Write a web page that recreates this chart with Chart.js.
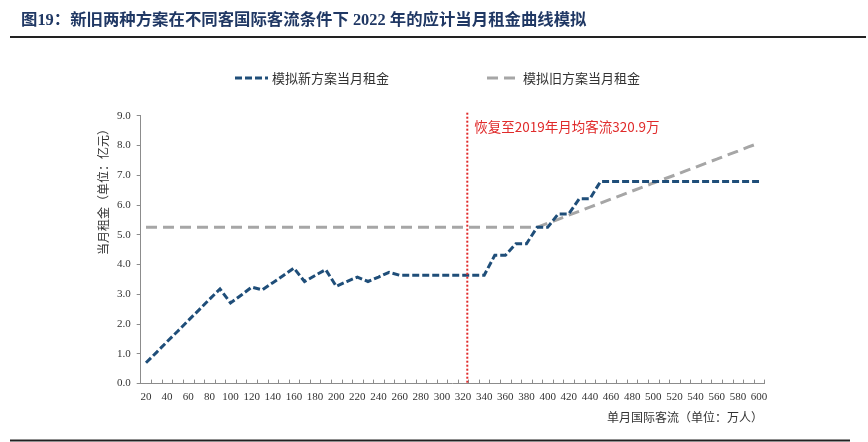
<!DOCTYPE html>
<html>
<head>
<meta charset="utf-8">
<script src="https://cdn.jsdelivr.net/npm/chart.js@4"></script>
<style>
  html, body { margin: 0; padding: 0; background: #fff; }
  #rentChart { display: block; }
</style>
</head>
<body>
<canvas id="rentChart" width="868" height="442"></canvas>
<script>
'use strict';

// monthly international passengers (10k people)
var passengers = [
    20, 30, 40, 50, 60, 70, 80, 90,
    100, 110, 120, 130, 140, 150, 160, 170, 180, 190,
    200, 210, 220, 230, 240, 250, 260, 270, 280, 290,
    300, 310, 320, 330, 340, 350, 360, 370, 380, 390,
    400, 410, 420, 430, 440, 450, 460, 470, 480, 490,
    500, 510, 520, 530, 540, 550, 560, 570, 580, 590,
    600
];
// simulated monthly rent, new scheme (100m yuan)
var newRent = [
    0.70, 1.05, 1.41, 1.76, 2.12, 2.47, 2.83, 3.18,
    2.71, 2.97, 3.24, 3.15, 3.39, 3.63, 3.88, 3.43, 3.63, 3.83,
    3.27, 3.43, 3.58, 3.43, 3.58, 3.74, 3.64, 3.64, 3.64, 3.64,
    3.64, 3.64, 3.64, 3.64, 3.64, 4.31, 4.31, 4.70, 4.70, 5.25,
    5.25, 5.70, 5.70, 6.21, 6.21, 6.79, 6.79, 6.79, 6.79, 6.79,
    6.79, 6.79, 6.79, 6.79, 6.79, 6.79, 6.79, 6.79, 6.79, 6.79,
    6.79
];
// simulated monthly rent, old scheme
var oldRent = [
    5.25, 5.25, 5.25, 5.25, 5.25, 5.25, 5.25, 5.25,
    5.25, 5.25, 5.25, 5.25, 5.25, 5.25, 5.25, 5.25, 5.25, 5.25,
    5.25, 5.25, 5.25, 5.25, 5.25, 5.25, 5.25, 5.25, 5.25, 5.25,
    5.25, 5.25, 5.25, 5.25, 5.25, 5.25, 5.25, 5.25, 5.25, 5.25,
    5.39, 5.52, 5.66, 5.79, 5.93, 6.06, 6.20, 6.33, 6.47, 6.60,
    6.74, 6.87, 7.00, 7.14, 7.27, 7.41, 7.54, 7.68, 7.81, 7.95,
    8.08
];
var xTickLabels = [
    20, 40, 60, 80, 100, 120, 140, 160, 180, 200,
    220, 240, 260, 280, 300, 320, 340, 360, 380, 400,
    420, 440, 460, 480, 500, 520, 540, 560, 580, 600
];
var yTickLabels = [0, 1, 2, 3, 4, 5, 6, 7, 8, 9];
var seriesNames = ['模拟新方案当月租金', '模拟旧方案当月租金'];
var recoveryX = 324;
var recoveryText = '恢复至2019年月均客流320.9万';

var titleText = '图19：新旧两种方案在不同客国际客流条件下 2022 年的应计当月租金曲线模拟';
var xTitle = '单月国际客流（单位：万人）';
var yTitle = '当月租金（单位：亿元）';

var SERIF = '"Liberation Serif", "Noto Sans CJK SC", serif';
var SANS = '"Noto Sans CJK SC", sans-serif';
var NEW_COLOR = '#1F4E79';
var OLD_COLOR = '#A6A6A6';
var NEW_DASH = [7, 3];
var OLD_DASH = [11, 6];

function toPoints (ys) {
    return passengers.map(function (x, i) {
        return { x: x, y: ys[i] };
    });
}

var decorations = {
    id: 'decorations',
    afterDatasetsDraw: function (chart) {
        var ctx = chart.ctx;
        var area = chart.chartArea;
        var xs = chart.scales.x;

        ctx.save();

        // minor tick marks pointing up from the x axis
        ctx.strokeStyle = '#8C8C8C';
        ctx.lineWidth = 1;
        for (var v = 25; v <= 605; v += 10) {
            var px = Math.round(xs.getPixelForValue(v)) + 0.5;
            ctx.beginPath();
            ctx.moveTo(px, area.bottom);
            ctx.lineTo(px, area.bottom - 4);
            ctx.stroke();
        }

        // recovery line + label
        var rx = xs.getPixelForValue(recoveryX);
        ctx.strokeStyle = '#E02B2B';
        ctx.lineWidth = 2;
        ctx.setLineDash([2, 2]);
        ctx.beginPath();
        ctx.moveTo(rx, area.top - 3);
        ctx.lineTo(rx, area.bottom);
        ctx.stroke();
        ctx.setLineDash([]);
        ctx.fillStyle = '#E02B2B';
        ctx.font = '13.5px ' + SANS;
        ctx.textBaseline = 'middle';
        ctx.textAlign = 'left';
        ctx.fillText(recoveryText, rx + 7, 127);

        // title and rules
        ctx.fillStyle = '#203864';
        ctx.font = 'bold 16.4px ' + SERIF;
        ctx.fillText(titleText, 21, 21);
        ctx.fillStyle = '#222';
        ctx.fillRect(10, 36, 856, 2);
        ctx.fillRect(10, 439.5, 840, 2);

        // legend
        ctx.lineWidth = 3;
        ctx.strokeStyle = NEW_COLOR;
        ctx.setLineDash(NEW_DASH);
        ctx.beginPath();
        ctx.moveTo(235, 78);
        ctx.lineTo(268, 78);
        ctx.stroke();
        ctx.strokeStyle = OLD_COLOR;
        ctx.setLineDash(OLD_DASH);
        ctx.beginPath();
        ctx.moveTo(487, 78);
        ctx.lineTo(516, 78);
        ctx.stroke();
        ctx.setLineDash([]);
        ctx.fillStyle = '#333';
        ctx.font = '13px ' + SANS;
        ctx.fillText(seriesNames[0], 272, 78);
        ctx.fillText(seriesNames[1], 523, 78);

        // axis titles
        ctx.font = '12px ' + SANS;
        ctx.textAlign = 'right';
        ctx.fillText(xTitle, 763, 417);
        ctx.translate(103, 189);
        ctx.rotate(-Math.PI / 2);
        ctx.textAlign = 'center';
        ctx.fillText(yTitle, 0, 0);

        ctx.restore();
    }
};

var tickFont = { family: SERIF, size: 11 };

new Chart(document.getElementById('rentChart').getContext('2d'), {
    type: 'line',
    data: {
        datasets: [{
            label: seriesNames[0],
            data: toPoints(newRent),
            borderColor: NEW_COLOR,
            borderWidth: 3,
            borderDash: NEW_DASH,
            pointRadius: 0,
            tension: 0
        }, {
            label: seriesNames[1],
            data: toPoints(oldRent),
            borderColor: OLD_COLOR,
            borderWidth: 3,
            borderDash: OLD_DASH,
            pointRadius: 0,
            tension: 0
        }]
    },
    options: {
        responsive: false,
        animation: false,
        events: [],
        layout: {
            padding: { left: 0, right: 103.7, top: 115.7, bottom: 0 }
        },
        plugins: {
            legend: { display: false },
            tooltip: { enabled: false }
        },
        scales: {
            x: {
                type: 'linear',
                min: 15,
                max: 605,
                afterBuildTicks: function (scale) {
                    scale.ticks = xTickLabels.map(function (v) { return { value: v }; });
                },
                afterFit: function (scale) { scale.height = 58.4; },
                grid: { display: false, drawTicks: false, tickLength: 0 },
                border: { display: true, color: '#8C8C8C', width: 1 },
                ticks: {
                    font: tickFont,
                    color: '#333',
                    padding: 7,
                    maxRotation: 0,
                    autoSkip: false,
                    callback: function (v) { return String(v); }
                }
            },
            y: {
                min: 0,
                max: 9,
                afterBuildTicks: function (scale) {
                    scale.ticks = yTickLabels.map(function (v) { return { value: v }; });
                },
                afterFit: function (scale) { scale.width = 140.7; },
                grid: {
                    drawOnChartArea: false,
                    drawTicks: true,
                    tickLength: 4,
                    color: '#8C8C8C'
                },
                border: { display: true, color: '#8C8C8C', width: 1 },
                ticks: {
                    font: tickFont,
                    color: '#333',
                    padding: 6,
                    callback: function (v) { return Number(v).toFixed(1); }
                }
            }
        }
    },
    plugins: [decorations]
});
</script>
</body>
</html>
